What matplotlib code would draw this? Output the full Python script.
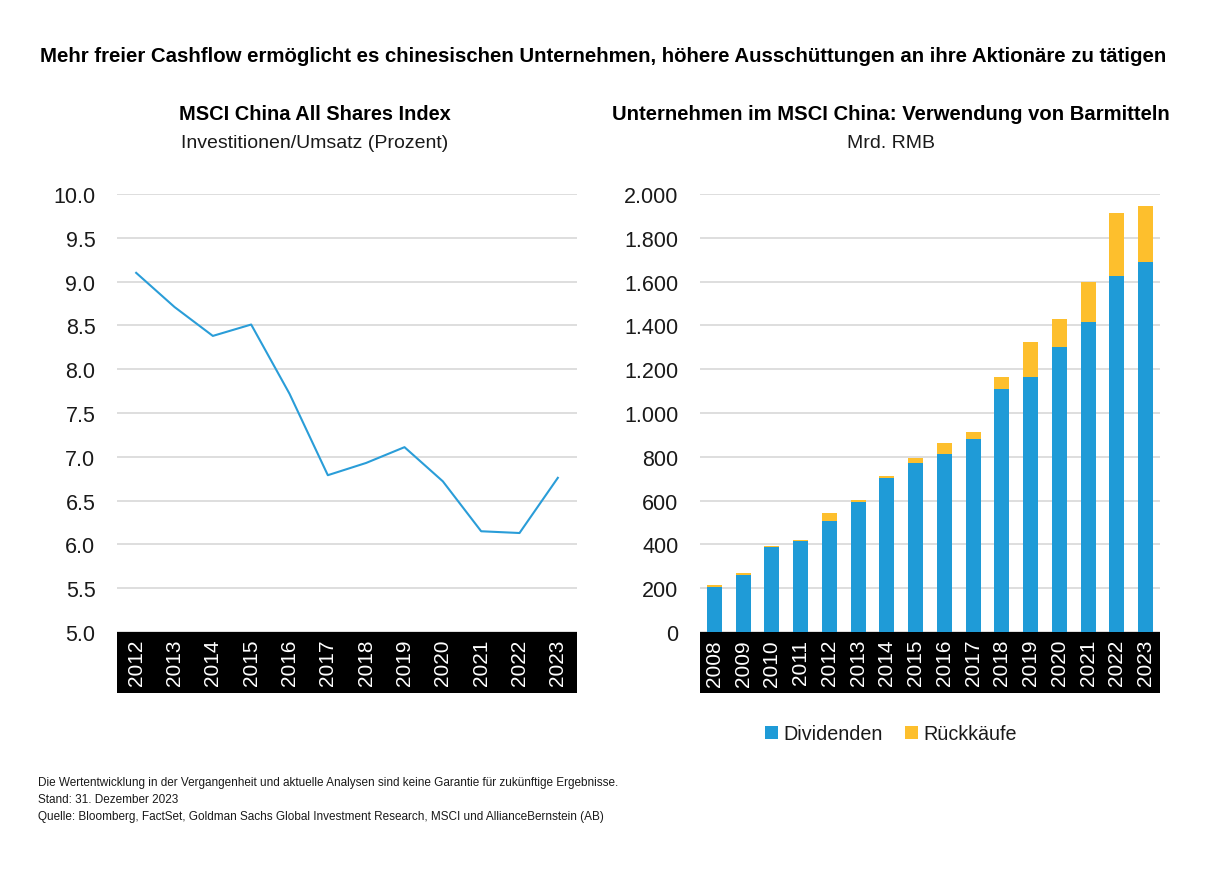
import matplotlib
matplotlib.use("Agg")
import matplotlib.pyplot as plt
from matplotlib.patches import Rectangle

# ---- data ----
line_years = ["2012", "2013", "2014", "2015", "2016", "2017", "2018", "2019", "2020", "2021", "2022", "2023"]
capex_sales = [9.10, 8.71, 8.38, 8.51, 7.72, 6.79, 6.93, 7.11, 6.72, 6.15, 6.13, 6.76]
line_yticks = [5.0, 5.5, 6.0, 6.5, 7.0, 7.5, 8.0, 8.5, 9.0, 9.5, 10.0]
line_yticklabels = ["5.0", "5.5", "6.0", "6.5", "7.0", "7.5", "8.0", "8.5", "9.0", "9.5", "10.0"]

bar_years = ["2008", "2009", "2010", "2011", "2012", "2013", "2014", "2015",
             "2016", "2017", "2018", "2019", "2020", "2021", "2022", "2023"]
dividends = [207, 262, 390, 416, 507, 594, 704, 772, 815, 879, 1110, 1165, 1302, 1414, 1625, 1688]
buybacks = [6, 9, 3, 3, 38, 8, 10, 22, 47, 32, 55, 159, 127, 182, 288, 259]
bar_yticks = [0, 200, 400, 600, 800, 1000, 1200, 1400, 1600, 1800, 2000]
bar_yticklabels = ["0", "200", "400", "600", "800", "1.000", "1.200", "1.400", "1.600", "1.800", "2.000"]

title = "Mehr freier Cashflow ermöglicht es chinesischen Unternehmen, höhere Ausschüttungen an ihre Aktionäre zu tätigen"
left_title = "MSCI China All Shares Index"
left_sub = "Investitionen/Umsatz (Prozent)"
right_title = "Unternehmen im MSCI China: Verwendung von Barmitteln"
right_sub = "Mrd. RMB"
legend_labels = ["Dividenden", "Rückkäufe"]
footnotes = [
    "Die Wertentwicklung in der Vergangenheit und aktuelle Analysen sind keine Garantie für zukünftige Ergebnisse.",
    "Stand: 31. Dezember 2023",
    "Quelle: Bloomberg, FactSet, Goldman Sachs Global Investment Research, MSCI und AllianceBernstein (AB)",
]

BLUE = "#1f9bd7"
YELLOW = "#fdbf2d"
GRID = "#dedede"
TXT = "#1a1a1a"

plt.rcParams["font.family"] = ["Liberation Sans", "DejaVu Sans"]

W, H = 1213, 887
fig = plt.figure(figsize=(W / 100, H / 100), dpi=100)
fig.patch.set_facecolor("white")


def px_axes(x0, y0, x1, y1):
    return fig.add_axes([x0 / W, 1 - y1 / H, (x1 - x0) / W, (y1 - y0) / H])


def style(ax, band_px=61, plot_h=438):
    for s in ax.spines.values():
        s.set_visible(False)
    ax.grid(axis="y", color=GRID, linewidth=1.4)
    ax.set_axisbelow(True)
    ax.tick_params(axis="y", length=0, labelsize=15.5, labelcolor=TXT, pad=15.5)
    ax.tick_params(axis="x", length=0, labelsize=15, labelcolor="white", pad=5, labelrotation=90)
    h = band_px / plot_h
    ax.add_patch(Rectangle((0, -h), 1, h, transform=ax.transAxes, clip_on=False,
                           facecolor="black", edgecolor="none", zorder=0.2))


# ---- left: line chart ----
axL = px_axes(117, 195, 577, 633)
xl = list(range(len(line_years)))
axL.plot(xl, capex_sales, color="#2a9dd8", linewidth=1.5, zorder=3)
axL.set_xlim(-0.5, len(line_years) - 0.5)
axL.set_ylim(5.0, 10.0)
axL.set_yticks(line_yticks)
axL.set_yticklabels(line_yticklabels)
axL.set_xticks(xl)
axL.set_xticklabels(line_years)
style(axL)

# ---- right: stacked bars ----
axR = px_axes(700, 195, 1160, 633)
xr = list(range(len(bar_years)))
axR.bar(xr, dividends, width=0.52, color=BLUE, label=legend_labels[0], zorder=3)
axR.bar(xr, buybacks, width=0.52, bottom=dividends, color=YELLOW, label=legend_labels[1], zorder=3)
axR.set_xlim(-0.5, len(bar_years) - 0.5)
axR.set_ylim(0, 2000)
axR.set_yticks(bar_yticks)
axR.set_yticklabels(bar_yticklabels)
axR.set_xticks(xr)
axR.set_xticklabels(bar_years)
style(axR)

leg = fig.legend(loc="center", bbox_to_anchor=(891 / W, 1 - 735 / H), ncol=2, frameon=False,
                 fontsize=14.2, handlelength=0.65, handleheight=0.65, handletextpad=0.3,
                 columnspacing=1.1)
for t in leg.get_texts():
    t.set_color(TXT)

# ---- titles ----
fig.text(40 / W, 1 - 57 / H, title, fontsize=14.7, fontweight="bold", color="black",
         ha="left", va="center")
fig.text(315 / W, 1 - 115 / H, left_title, fontsize=14.4, fontweight="bold", color="black",
         ha="center", va="center")
fig.text(315 / W, 1 - 143 / H, left_sub, fontsize=14, color=TXT, ha="center", va="center")
fig.text(891 / W, 1 - 115 / H, right_title, fontsize=14.6, fontweight="bold", color="black",
         ha="center", va="center")
fig.text(891 / W, 1 - 143 / H, right_sub, fontsize=14, color=TXT, ha="center", va="center")

for i, line in enumerate(footnotes):
    fig.text(38 / W, 1 - (783 + 17 * i) / H, line, fontsize=8.45, color=TXT,
             ha="left", va="center")

fig.savefig("out.png", dpi=100, facecolor="white")
